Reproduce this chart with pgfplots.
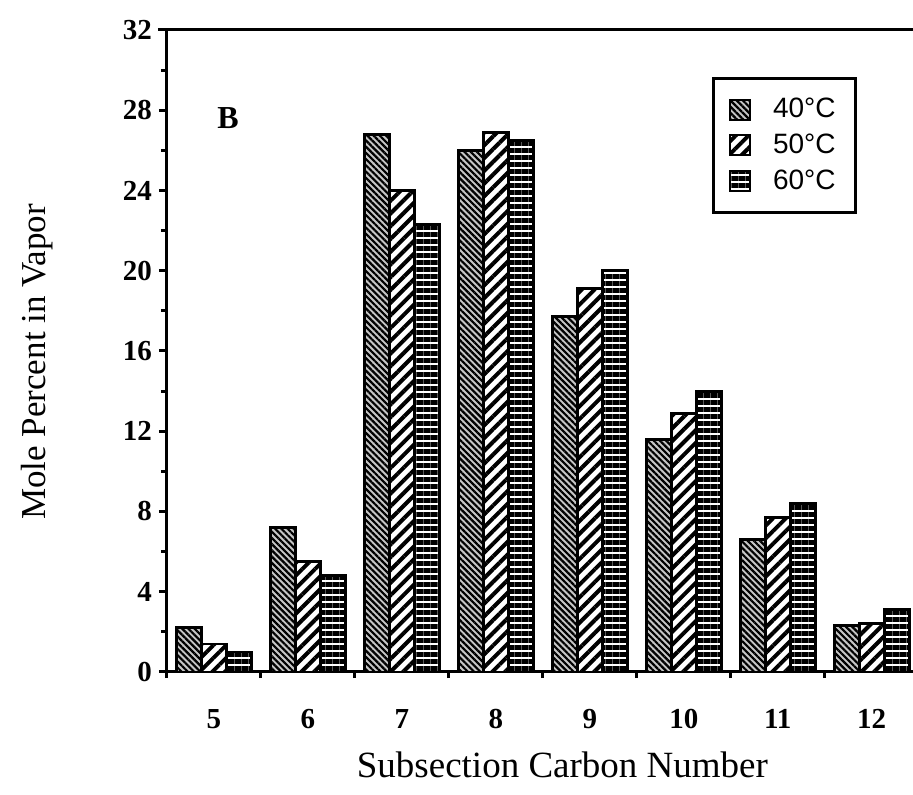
\documentclass[border=0pt]{standalone}
\usepackage{fontspec}
\setmainfont{Liberation Serif}
\newfontfamily\legfont{Liberation Sans}
\usepackage{pgfplots}
\usepackage{pgfplotstable}
\pgfplotsset{compat=1.18}
\usetikzlibrary{patterns,patterns.meta}

\pgfplotstableread{
x   t40  t50  t60
5   2.2  1.4  1.0
6   7.2  5.5  4.8
7   26.8 24.0 22.3
8   26.0 26.9 26.5
9   17.7 19.1 20.0
10  11.6 12.9 14.0
11  6.6  7.7  8.4
12  2.3  2.4  3.1
}\datatable

\begin{document}
\begin{tikzpicture}
\begin{axis}[
  at={(0,0)}, anchor=south west,
  scale only axis, width=373pt, height=321pt,
  xmin=4.5, xmax=12.44, ymin=0, ymax=32,
  axis lines*=left,
  axis line style={line width=1.5pt},
  clip=false,
  ybar, bar width=12.5pt,
  ytick={0,4,...,32}, minor y tick num=1,
  xtick={5,...,12},
  minor xtick={4.5,5.5,...,11.5},
  major x tick style={draw=none},
  tick align=outside,
  major tick length=4pt, minor tick length=3pt,
  tick style={line width=1.5pt, black},
  /pgf/number format/assume math mode=true,
  ticklabel style={font=\bfseries\fontsize{14.5}{16}\selectfont},
  xticklabel style={yshift=-11pt},
  xlabel={Subsection Carbon Number},
  ylabel={Mole Percent in Vapor},
  xlabel style={at={(axis description cs:0.53,-0.165)}, anchor=base, font=\fontsize{18.5}{20}\selectfont},
  ylabel style={at={(axis description cs:-0.1635,0.483)}, anchor=base, font=\fontsize{17.5}{20}\selectfont},
  legend style={at={(0.925,0.927)}, anchor=north east, draw=black, line width=1.5pt,
    font=\legfont\fontsize{14}{15}\selectfont, row sep=2.5pt, column sep=9pt,
    inner xsep=8pt, inner ysep=8pt},
  legend cell align=left,
  legend image code/.code={\draw[#1, line width=1pt] (0pt,-5pt) rectangle (10pt,5pt);},
]
\addplot[draw=black, line width=1.4pt, bar shift=-12.5pt, fill=gray!45,
  postaction={pattern={Lines[angle=-45,distance=2.2pt,line width=1.1pt]}}]
  table[x=x, y=t40] {\datatable};
\addplot[draw=black, line width=1.4pt, bar shift=0pt, fill=white,
  postaction={pattern={Lines[angle=45,distance=4.5pt,line width=2pt]}}]
  table[x=x, y=t50] {\datatable};
\addplot[draw=black, line width=1.4pt, bar shift=12.5pt, fill=white,
  postaction={pattern={Lines[angle=0,distance=3.5pt,line width=2.5pt]}}]
  table[x=x, y=t60] {\datatable};
\legend{40°C, 50°C, 60°C}
\draw[line width=1.5pt] (axis cs:4.404,32) -- (axis cs:12.44,32);
\draw[line width=1.5pt] (axis cs:4.42,0) -- (axis cs:4.5,0);
\node[font=\bfseries\fontsize{16}{18}\selectfont] at (axis cs:5.15,27.6) {B};
\end{axis}
\pgfresetboundingbox
\path[use as bounding box] (-83.5pt,-61.5pt) rectangle (373pt,336pt);
\end{tikzpicture}
\end{document}
